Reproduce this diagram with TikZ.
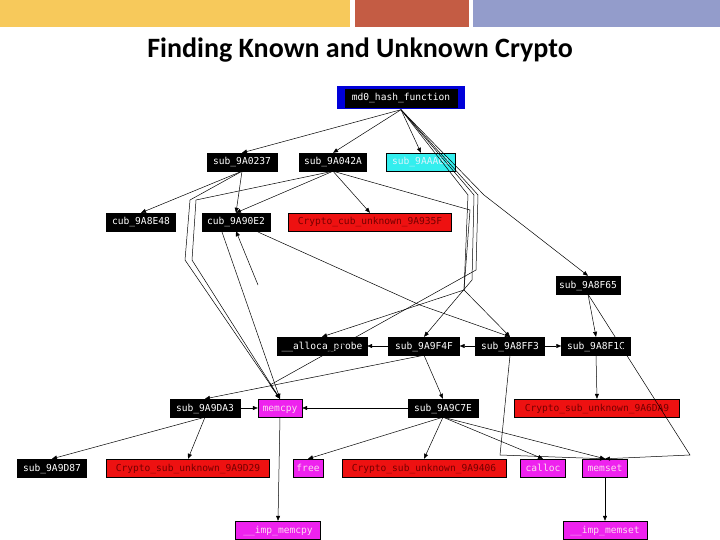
\documentclass[tikz,border=0pt]{standalone}
\usepackage{fontspec}
\setmainfont{Carlito}
\newfontfamily\gmono{DejaVu Sans Mono}
\usetikzlibrary{arrows.meta}
\definecolor{barY}{HTML}{F7C95B}
\definecolor{barO}{HTML}{C45C44}
\definecolor{barB}{HTML}{939CCB}
\definecolor{cyanb}{HTML}{33EEEE}
\definecolor{redb}{HTML}{EE1111}
\definecolor{magb}{HTML}{EE22EE}
\begin{document}
\begin{tikzpicture}[x=1pt,y=-1pt,
 fn/.style={draw=black,fill=black,text=white,font=\gmono\fontsize{9.6}{10}\selectfont,inner sep=0pt,minimum height=18pt,text height=7pt,text depth=1pt},
 cy/.style={fn,fill=cyanb,text=white!85!cyan},
 rd/.style={fn,fill=redb,text=red!45!black},
 mg/.style={fn,fill=magb,text=white!85!magenta},
 ed/.style={-{Triangle[length=5pt,width=4pt]},line width=0.5pt}]
\useasboundingbox (0,0) rectangle (720,540);
\fill[barY] (0,0) rectangle (350,27);
\fill[barO] (355,0) rectangle (469,27);
\fill[barB] (473,0) rectangle (720,27);
\node[font=\bfseries\fontsize{28}{32}\selectfont] (title) at (360,50) {Finding Known and Unknown Crypto};

\node[fill=blue!85!black,minimum width=128pt,minimum height=23pt,inner sep=0pt] (md0b) at (401,98) {};
\node[fn,minimum width=112pt] (md0) at (401,98) {md0\_hash\_function};
\node[fn,minimum width=70pt] (a237) at (242,162) {sub\_9A0237};
\node[fn,minimum width=67pt] (a42a) at (333,162) {sub\_9A042A};
\node[cy,minimum width=69pt] (aa61) at (421,162) {sub\_9AAA61};
\node[fn,minimum width=69pt] (e48) at (141,222) {cub\_9A8E48};
\node[fn,minimum width=68pt] (e2) at (236,222) {cub\_9A90E2};
\node[rd,minimum width=163pt] (c35f) at (370,222) {Crypto\_cub\_unknown\_9A935F};
\node[fn,minimum width=64pt] (f65) at (588,285) {sub\_9A8F65};
\node[fn,minimum width=90pt] (alloc) at (322,346) {\_\_alloca\_probe};
\node[fn,minimum width=71pt] (f4f) at (424,346) {sub\_9A9F4F};
\node[fn,minimum width=69pt] (ff3) at (510,346) {sub\_9A8FF3};
\node[fn,minimum width=69pt] (f1c) at (596,346) {sub\_9A8F1C};
\node[fn,minimum width=70pt] (da3) at (205,408) {sub\_9A9DA3};
\node[mg,minimum width=44pt] (memcpy) at (280,408) {memcpy};
\node[fn,minimum width=70pt] (c7e) at (443,408) {sub\_9A9C7E};
\node[rd,minimum width=165pt] (c6da9) at (597,408) {Crypto\_sub\_unknown\_9A6DA9};
\node[fn,minimum width=69pt] (d87) at (52,468) {sub\_9A9D87};
\node[rd,minimum width=163pt] (c9d29) at (188,468) {Crypto\_sub\_unknown\_9A9D29};
\node[mg,minimum width=30pt] (free) at (308,468) {free};
\node[rd,minimum width=164pt] (c9406) at (424,468) {Crypto\_sub\_unknown\_9A9406};
\node[mg,minimum width=45pt] (calloc) at (543,468) {calloc};
\node[mg,minimum width=45pt] (memset) at (605,468) {memset};
\node[mg,minimum width=85pt] (impcpy) at (278,530) {\_\_imp\_memcpy};
\node[mg,minimum width=84pt] (impset) at (605,530) {\_\_imp\_memset};

\coordinate (j1) at (464,290);
\coordinate (stub) at (258,285);
% md0 fan
\draw[ed] (md0b.south) -- (a237.north);
\draw[ed] (md0b.south) -- (a42a.north);
\draw[ed] (md0b.south) -- (aa61.north);
\draw[ed] (md0b.south) -- (484,195) -- (f65.north);
\draw[ed] (md0b.south) -- (468,195) -- (j1) -- (ff3.north);
\draw[ed] (md0b.south) -- (474,195) -- (472,280) -- (f4f.north);
\draw[ed] (md0b.south) -- (478,195) -- (476,270) -- (270,385) -- (memcpy.north);
% 9A0237
\draw[ed] (a237.south) -- (e48.north);
\draw[ed] (a237.south) -- (e2.north);
\draw[ed] (a237.south) -- (190,200) -- (185,260) -- (memcpy.north);
% 9A042A
\draw[ed] (a42a.south) -- (e2.north);
\draw[ed] (a42a.south) -- (c35f.north);
\draw[ed] (a42a.south) -- (196,200) -- (192,260) -- (memcpy.north);
\draw[ed] (a42a.south) -- (470,210) -- (j1) -- (alloc.north);
% 9A90E2
\draw[ed] (222,232) -- (memcpy.north);
\draw[ed] (stub) -- (e2.south);
\draw[ed] (258,232) -- (420,305) -- (ff3.north);
% f65
\draw[ed] (f65.south) -- (f1c.north);
% row 346
\draw[ed] (f4f.west) -- (alloc.east);
\draw[ed] (ff3.west) -- (f4f.east);
\draw[ed] (ff3.east) -- (f1c.west);
\draw[ed] (f4f.south) -- (da3.north);
\draw[ed] (f4f.south) -- (c7e.north);
\draw[ed] (f1c.south) -- (c6da9.north);
\draw[ed] (ff3.south) -- (500,455) -- (memset.north);
\draw[ed] (f65.south) -- (690,455) -- (memset.north);
% 408 row
\draw[ed] (da3.east) -- (memcpy.west);
\draw[ed] (c7e.west) -- (memcpy.east);
\draw[ed] (da3.south) -- (d87.north);
\draw[ed] (da3.south) -- (c9d29.north);
\draw[ed] (memcpy.south) -- (impcpy.north);
\draw[ed] (c7e.south) -- (free.north);
\draw[ed] (c7e.south) -- (c9406.north);
\draw[ed] (c7e.south) -- (calloc.north);
\draw[ed] (c7e.south) -- (memset.north);
\draw[ed] (memset.south) -- (impset.north);
\end{tikzpicture}
\end{document}
